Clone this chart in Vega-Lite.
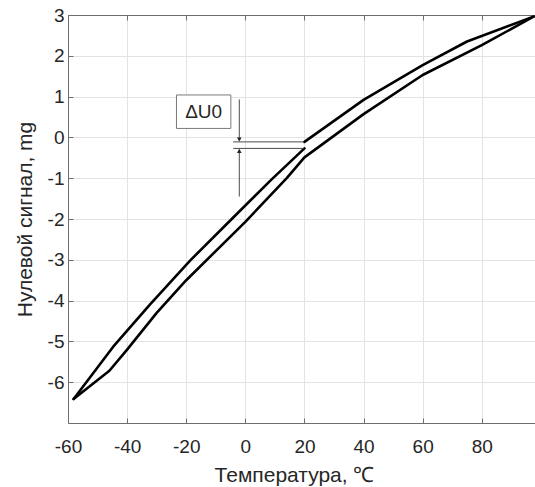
{
  "$schema": "https://vega.github.io/schema/vega-lite/v6.json",
  "width": 467,
  "height": 408,
  "autosize": {"type": "none"},
  "padding": {"left": 68, "top": 15, "right": 0, "bottom": 64},
  "background": "white",
  "config": {
    "view": {"stroke": null},
    "font": "Liberation Sans",
    "axis": {
      "domainColor": "#6e6e6e",
      "domainWidth": 1,
      "tickColor": "#6e6e6e",
      "tickSize": -5,
      "gridColor": "#e3e3e3",
      "gridWidth": 1,
      "labelFont": "Liberation Sans",
      "labelFontSize": 19,
      "labelColor": "#262626",
      "labelFlush": false,
      "labelExpr": "replace(datum.label, '\u2212', '-')",
      "titleFont": "Liberation Sans",
      "titleFontSize": 21,
      "titleFontWeight": "normal",
      "titleColor": "#262626"
    }
  },
  "datasets": {
    "curves": [
      {"seg": "upper_a", "i": 0, "t": -58.1, "v": -6.41},
      {"seg": "upper_a", "i": 1, "t": -44.7, "v": -5.13},
      {"seg": "upper_a", "i": 2, "t": -32.3, "v": -4.1},
      {"seg": "upper_a", "i": 3, "t": -18.7, "v": -3.02},
      {"seg": "upper_a", "i": 4, "t": -4.6, "v": -2.0},
      {"seg": "upper_a", "i": 5, "t": 8.9, "v": -1.03},
      {"seg": "upper_a", "i": 6, "t": 20, "v": -0.27},
      {"seg": "upper_b", "i": 0, "t": 20, "v": -0.11},
      {"seg": "upper_b", "i": 1, "t": 40, "v": 0.92},
      {"seg": "upper_b", "i": 2, "t": 60, "v": 1.77},
      {"seg": "upper_b", "i": 3, "t": 75, "v": 2.35},
      {"seg": "upper_b", "i": 4, "t": 97.5, "v": 2.96},
      {"seg": "lower", "i": 0, "t": -58.1, "v": -6.41},
      {"seg": "lower", "i": 1, "t": -46, "v": -5.72},
      {"seg": "lower", "i": 2, "t": -40, "v": -5.2},
      {"seg": "lower", "i": 3, "t": -30, "v": -4.3},
      {"seg": "lower", "i": 4, "t": -20, "v": -3.5},
      {"seg": "lower", "i": 5, "t": 0, "v": -2.07},
      {"seg": "lower", "i": 6, "t": 14, "v": -1.0},
      {"seg": "lower", "i": 7, "t": 20, "v": -0.49},
      {"seg": "lower", "i": 8, "t": 40, "v": 0.57},
      {"seg": "lower", "i": 9, "t": 60, "v": 1.53},
      {"seg": "lower", "i": 10, "t": 80, "v": 2.26},
      {"seg": "lower", "i": 11, "t": 97.5, "v": 2.96}
    ],
    "levels": [
      {"t1": -4.1, "t2": 19.7, "v": -0.11},
      {"t1": -4.1, "t2": 19.7, "v": -0.27}
    ],
    "arrows": [
      {"t": -2.05, "v1": 0.93, "v2": -0.06},
      {"t": -2.05, "v1": -1.45, "v2": -0.32}
    ],
    "heads": [
      {"t": -2.05, "v": -0.05, "dir": "down"},
      {"t": -2.05, "v": -0.33, "dir": "up"}
    ],
    "label": [
      {"t1": -23.3, "t2": -4.9, "v1": 1.04, "v2": 0.22, "tc": -14.1, "vc": 0.63, "text": "ΔU0"}
    ]
  },
  "resolve": {"axis": {"x": "independent"}},
  "layer": [
    {
      "data": {"name": "curves"},
      "mark": {"type": "line", "color": "black", "strokeWidth": 2.6, "strokeJoin": "round", "strokeCap": "round"},
      "encoding": {
        "x": {
          "field": "t", "type": "quantitative",
          "scale": {"domain": [-60, 98], "nice": false, "zero": false},
          "axis": {
            "orient": "bottom",
            "values": [-60, -40, -20, 0, 20, 40, 60, 80],
            "grid": true,
            "labelPadding": 19,
            "title": "Температура, ℃",
            "titlePadding": 8,
            "titleX": 226
          }
        },
        "y": {
          "field": "v", "type": "quantitative",
          "scale": {"domain": [-7, 3], "nice": false, "zero": false},
          "axis": {
            "values": [-6, -5, -4, -3, -2, -1, 0, 1, 2, 3],
            "grid": true,
            "labelPadding": 9,
            "title": "Нулевой сигнал, mg",
            "titlePadding": 12
          }
        },
        "detail": {"field": "seg"},
        "order": {"field": "i", "type": "quantitative"}
      }
    },
    {
      "data": {"name": "levels"},
      "mark": {"type": "rule", "color": "#4a4a4a", "strokeWidth": 1},
      "encoding": {
        "x": {"field": "t1", "type": "quantitative", "axis": null},
        "x2": {"field": "t2"},
        "y": {"field": "v", "type": "quantitative"}
      }
    },
    {
      "data": {"name": "arrows"},
      "mark": {"type": "rule", "color": "#4a4a4a", "strokeWidth": 1},
      "encoding": {
        "x": {"field": "t", "type": "quantitative", "axis": null},
        "y": {"field": "v1", "type": "quantitative"},
        "y2": {"field": "v2"}
      }
    },
    {
      "data": {"name": "heads"},
      "mark": {"type": "point", "filled": true, "color": "#222222", "size": 22, "opacity": 1},
      "encoding": {
        "x": {"field": "t", "type": "quantitative", "axis": null},
        "y": {"field": "v", "type": "quantitative"},
        "shape": {
          "field": "dir", "type": "nominal",
          "scale": {"domain": ["down", "up"], "range": ["triangle-down", "triangle-up"]},
          "legend": null
        }
      }
    },
    {
      "data": {"name": "label"},
      "mark": {"type": "rect", "fill": "white", "stroke": "#7a7a7a", "strokeWidth": 1},
      "encoding": {
        "x": {
          "field": "t1", "type": "quantitative",
          "axis": {
            "orient": "top",
            "values": [-60, -40, -20, 0, 20, 40, 60, 80],
            "labels": false,
            "grid": false,
            "title": null
          }
        },
        "x2": {"field": "t2"},
        "y": {"field": "v1", "type": "quantitative"},
        "y2": {"field": "v2"}
      }
    },
    {
      "data": {"name": "label"},
      "mark": {"type": "text", "font": "Liberation Sans", "fontSize": 19, "color": "#262626", "align": "center", "baseline": "middle"},
      "encoding": {
        "x": {"field": "tc", "type": "quantitative", "axis": null},
        "y": {"field": "vc", "type": "quantitative"},
        "text": {"field": "text"}
      }
    }
  ]
}
